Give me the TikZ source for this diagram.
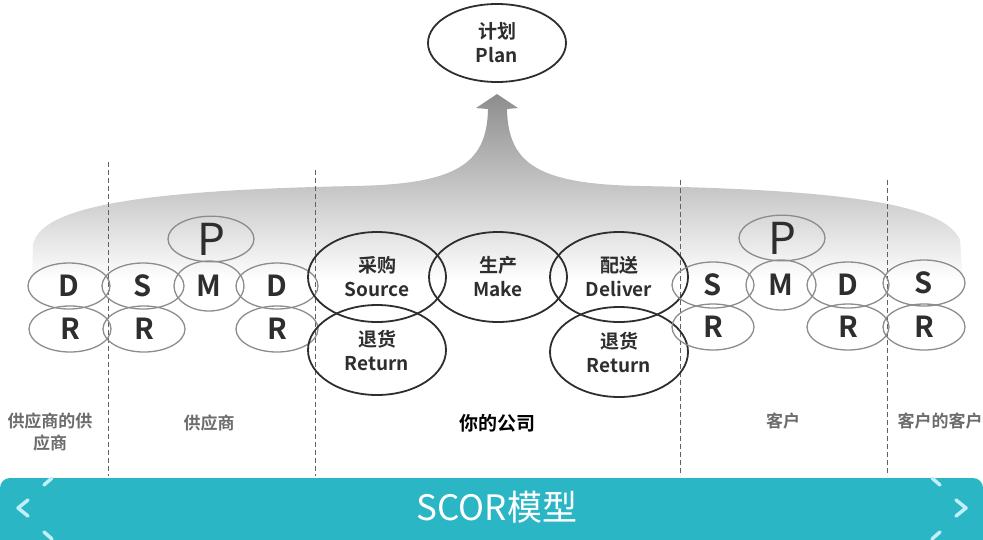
\documentclass[tikz,border=0pt]{standalone}
\usepackage{fontspec}
\setmainfont{Noto Sans CJK SC}[BoldFont={* Bold}]
\usetikzlibrary{shapes.geometric}

\definecolor{scorteal}{HTML}{2BB6C6}
\definecolor{chevblue}{HTML}{C2EFFA}
\definecolor{ringgray}{HTML}{8C8C8C}
\definecolor{inkgray}{HTML}{2E2E2E}

\tikzset{
    ring/.style={ellipse,draw=ringgray,line width=1.3pt,inner sep=0pt,
        minimum width=82pt,minimum height=46pt,text=inkgray,
        font=\fontsize{29}{29}\selectfont\bfseries},
    mring/.style={ring,minimum width=70pt,minimum height=50pt},
    pring/.style={ring,minimum width=86pt,minimum height=43pt,
        font=\fontsize{44}{44}\selectfont},
    bigring/.style={ellipse,draw=inkgray,line width=1.8pt,inner sep=2pt,
        minimum width=138pt,minimum height=90pt,align=center,text=inkgray,
        font=\fontsize{19}{24}\selectfont\bfseries},
    area/.style={align=center,text=gray!85!black,
        font=\fontsize{17}{22}\selectfont\bfseries},
    divider/.style={draw=gray!75!black,line width=0.8pt,
        dash pattern=on 5pt off 3pt},
    chev/.style={draw=chevblue,line width=3.5pt,line cap=round,line join=round}
}

\begin{document}
\begin{tikzpicture}[x=1pt,y=-1pt]
    \useasboundingbox (0,0) rectangle (983,539);
    % The fan rising to the plan
    \shade[top color=gray!90,middle color=gray!62,bottom color=white]
        (497,94) -- (518,108) -- (507,109)
        .. controls (508,165) and (540,184) .. (640,186)
        .. controls (850,190) and (945,205) .. (960,240)
        -- (963,280) -- (32,280) -- (33,245)
        .. controls (40,205) and (150,190) .. (355,186)
        .. controls (455,184) and (487,165) .. (488,109)
        -- (476,108) -- cycle;
    % The plan
    \node[bigring,minimum height=78pt] (plan) at (497,43) {计划\\Plan};
    % The borders between the parties
    \draw[divider] (108,162) -- (108,476);
    \draw[divider] (315,170) -- (315,476);
    \draw[divider] (680,180) -- (680,476);
    \draw[divider] (887,180) -- (887,476);
    % Supplier's supplier
    \node[ring] (ssD) at (69,286) {D};
    \node[ring] (ssR) at (70,329) {R};
    % Supplier
    \node[ring] (supS) at (143,286) {S};
    \node[ring] (supR1) at (144,329) {R};
    \node[pring] (supP) at (211,239) {P};
    \node[mring] (supM) at (209,286) {M};
    \node[ring] (supD) at (277,286) {D};
    \node[ring] (supR2) at (277,329) {R};
    % Your company
    \node[bigring] (source) at (377,277) {采购\\Source};
    \node[bigring] (make) at (498,277) {生产\\Make};
    \node[bigring] (deliver) at (619,277) {配送\\Deliver};
    \node[bigring] (retS) at (377,350) {退货\\Return};
    \node[bigring] (retD) at (619,352) {退货\\Return};
    % Customer
    \node[ring] (cusS) at (713,285) {S};
    \node[ring] (cusR1) at (713,327) {R};
    \node[pring] (cusP) at (782,238) {P};
    \node[mring] (cusM) at (781,285) {M};
    \node[ring] (cusD) at (848,285) {D};
    \node[ring] (cusR2) at (848,327) {R};
    % Customer's customer
    \node[ring] (ccS) at (924,283) {S};
    \node[ring] (ccR) at (924,327) {R};
    % The names of the parties
    \node[area] (lblSS) at (50,432) {供应商的供\\应商};
    \node[area] (lblSup) at (209,423) {供应商};
    \node[area,text=black,font=\fontsize{19}{22}\selectfont\bfseries]
        (lblYou) at (497,423) {你的公司};
    \node[area] (lblCus) at (783,421) {客户};
    \node[area] (lblCC) at (940,421) {客户的客户};
    % The title band
    \fill[scorteal,rounded corners=10pt] (0,478) rectangle (983,560);
    \node[text=white,font=\fontsize{35}{35}\selectfont] (title) at (497,507) {SCOR模型};
    \draw[chev] (28,500) -- (18,508) -- (28,516);
    \draw[chev] (956,500) -- (966,508) -- (956,516);
    \draw[chev] (44,485) -- (52,478);
    \draw[chev] (44,532) -- (52,539);
    \draw[chev] (932,478) -- (940,485);
    \draw[chev] (940,532) -- (932,539);
\end{tikzpicture}
\end{document}
